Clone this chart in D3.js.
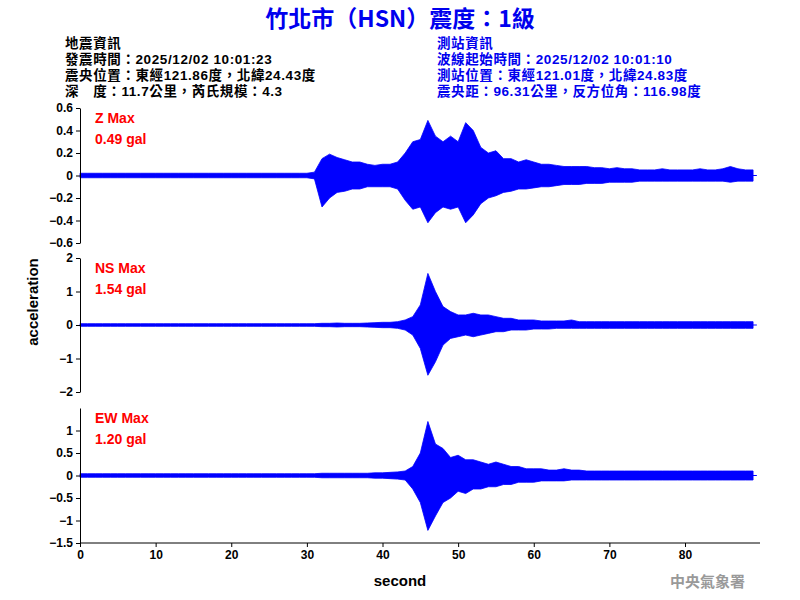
<!DOCTYPE html>
<html><head><meta charset="utf-8">
<script src="https://cdn.jsdelivr.net/npm/d3@7"></script>
<style>body{margin:0;background:#fff}text{font-family:Arial,"Liberation Sans",sans-serif}</style>
</head><body><svg id="c" width="800" height="600"></svg>
<script>
// envelope per second (0..89): max and min acceleration
var zMax = [0.02,0.02,0.02,0.02,0.02,0.02,0.02,0.02,0.02,0.02,0.02,0.02,0.02,0.02,0.02,0.02,0.02,0.02,0.02,0.02,0.02,0.02,0.02,0.02,0.02,0.02,0.02,0.02,0.02,0.02,0.02,0.03,0.15,0.19,0.16,0.14,0.12,0.12,0.1,0.09,0.1,0.1,0.12,0.2,0.3,0.32,0.49,0.35,0.3,0.35,0.3,0.47,0.4,0.25,0.2,0.22,0.15,0.15,0.12,0.14,0.12,0.1,0.1,0.09,0.08,0.08,0.08,0.08,0.07,0.07,0.06,0.07,0.06,0.06,0.05,0.05,0.05,0.06,0.05,0.05,0.05,0.05,0.06,0.05,0.05,0.06,0.08,0.06,0.05,0.05];
var zMin = [-0.02,-0.02,-0.02,-0.02,-0.02,-0.02,-0.02,-0.02,-0.02,-0.02,-0.02,-0.02,-0.02,-0.02,-0.02,-0.02,-0.02,-0.02,-0.02,-0.02,-0.02,-0.02,-0.02,-0.02,-0.02,-0.02,-0.02,-0.02,-0.02,-0.02,-0.02,-0.03,-0.28,-0.2,-0.15,-0.14,-0.12,-0.12,-0.1,-0.1,-0.1,-0.1,-0.12,-0.22,-0.3,-0.28,-0.42,-0.33,-0.28,-0.3,-0.28,-0.42,-0.35,-0.25,-0.2,-0.18,-0.15,-0.14,-0.12,-0.12,-0.11,-0.1,-0.1,-0.09,-0.08,-0.08,-0.08,-0.07,-0.07,-0.07,-0.06,-0.06,-0.06,-0.06,-0.05,-0.05,-0.05,-0.05,-0.05,-0.05,-0.05,-0.05,-0.05,-0.05,-0.05,-0.05,-0.06,-0.05,-0.05,-0.05];
var nsMax = [0.04,0.04,0.04,0.04,0.04,0.04,0.04,0.04,0.04,0.04,0.04,0.04,0.04,0.04,0.04,0.04,0.04,0.04,0.04,0.04,0.04,0.04,0.04,0.04,0.04,0.04,0.04,0.04,0.04,0.04,0.04,0.04,0.05,0.05,0.06,0.05,0.05,0.05,0.06,0.07,0.08,0.08,0.1,0.15,0.25,0.6,1.54,1.0,0.55,0.4,0.3,0.3,0.35,0.3,0.3,0.25,0.2,0.2,0.15,0.15,0.15,0.12,0.12,0.12,0.12,0.15,0.1,0.1,0.1,0.1,0.1,0.1,0.1,0.1,0.1,0.1,0.1,0.1,0.1,0.1,0.1,0.1,0.1,0.1,0.1,0.1,0.1,0.1,0.1,0.1];
var nsMin = [-0.04,-0.04,-0.04,-0.04,-0.04,-0.04,-0.04,-0.04,-0.04,-0.04,-0.04,-0.04,-0.04,-0.04,-0.04,-0.04,-0.04,-0.04,-0.04,-0.04,-0.04,-0.04,-0.04,-0.04,-0.04,-0.04,-0.04,-0.04,-0.04,-0.04,-0.04,-0.04,-0.05,-0.05,-0.06,-0.05,-0.05,-0.05,-0.06,-0.07,-0.08,-0.08,-0.1,-0.15,-0.3,-0.7,-1.5,-1.1,-0.6,-0.4,-0.35,-0.3,-0.35,-0.3,-0.25,-0.2,-0.2,-0.15,-0.15,-0.15,-0.12,-0.12,-0.12,-0.1,-0.1,-0.1,-0.1,-0.1,-0.1,-0.1,-0.1,-0.1,-0.1,-0.1,-0.1,-0.1,-0.1,-0.1,-0.1,-0.1,-0.1,-0.1,-0.1,-0.1,-0.1,-0.1,-0.1,-0.1,-0.1,-0.1];
var ewMax = [0.04,0.04,0.04,0.04,0.04,0.04,0.04,0.04,0.04,0.04,0.04,0.04,0.04,0.04,0.04,0.04,0.04,0.04,0.04,0.04,0.04,0.04,0.04,0.04,0.04,0.04,0.04,0.04,0.04,0.04,0.04,0.04,0.05,0.05,0.05,0.05,0.05,0.05,0.05,0.06,0.06,0.07,0.08,0.1,0.2,0.5,1.2,0.7,0.6,0.4,0.45,0.35,0.35,0.3,0.25,0.3,0.25,0.2,0.2,0.15,0.15,0.15,0.12,0.12,0.15,0.12,0.12,0.1,0.1,0.1,0.1,0.1,0.1,0.1,0.1,0.1,0.1,0.1,0.1,0.1,0.1,0.1,0.1,0.1,0.1,0.1,0.1,0.1,0.1,0.1];
var ewMin = [-0.04,-0.04,-0.04,-0.04,-0.04,-0.04,-0.04,-0.04,-0.04,-0.04,-0.04,-0.04,-0.04,-0.04,-0.04,-0.04,-0.04,-0.04,-0.04,-0.04,-0.04,-0.04,-0.04,-0.04,-0.04,-0.04,-0.04,-0.04,-0.04,-0.04,-0.04,-0.04,-0.05,-0.05,-0.05,-0.05,-0.05,-0.05,-0.05,-0.06,-0.06,-0.07,-0.08,-0.1,-0.3,-0.6,-1.22,-0.9,-0.6,-0.5,-0.35,-0.4,-0.3,-0.3,-0.25,-0.25,-0.2,-0.2,-0.15,-0.15,-0.15,-0.12,-0.12,-0.12,-0.12,-0.1,-0.1,-0.1,-0.1,-0.1,-0.1,-0.1,-0.1,-0.1,-0.1,-0.1,-0.1,-0.1,-0.1,-0.1,-0.1,-0.1,-0.1,-0.1,-0.1,-0.1,-0.1,-0.1,-0.1,-0.1];

var panels = [
    {name: "Z Max", peak: "0.49 gal", hi: zMax, lo: zMin, dom: [-0.6, 0.6], ticks: [-0.6,-0.4,-0.2,0,0.2,0.4,0.6], top: 108, bottom: 243},
    {name: "NS Max", peak: "1.54 gal", hi: nsMax, lo: nsMin, dom: [-2, 2], ticks: [-2,-1,0,1,2], top: 258, bottom: 392},
    {name: "EW Max", peak: "1.20 gal", hi: ewMax, lo: ewMin, dom: [-1.5, 1.5], ticks: [-1.5,-1,-0.5,0,0.5,1], top: 408, bottom: 543}
];
var xTicks = [0,10,20,30,40,50,60,70,80];

var svg = d3.select("#c");
var x = d3.scaleLinear().domain([0, 80]).range([80, 685]);

svg.append("text").attr("x", 400).attr("y", 27).attr("text-anchor", "middle")
    .attr("fill", "#0000ee").attr("font-size", 23).attr("font-weight", "bold")
    .style("font-family", "'Noto Sans CJK TC',sans-serif").text("竹北市（HSN）震度：1級");

var left = ["地震資訊", "發震時間：2025/12/02 10:01:23", "震央位置：東經121.86度，北緯24.43度", "深　度：11.7公里，芮氏規模：4.3"];
var right = ["測站資訊", "波線起始時間：2025/12/02 10:01:10", "測站位置：東經121.01度，北緯24.83度", "震央距：96.31公里，反方位角：116.98度"];
[[left, 65, "#000"], [right, 437, "#0000ee"]].forEach(function (b)
{
    b[0].forEach(function (t, i)
    {
        svg.append("text").attr("x", b[1]).attr("y", 48 + i * 16).attr("fill", b[2])
            .attr("font-size", 13.5).attr("font-weight", "bold").attr("letter-spacing", 0.6)
            .style("font-family", "'Liberation Sans','Noto Sans CJK TC',sans-serif").text(t);
    });
});

panels.forEach(function (p, k)
{
    var y = d3.scaleLinear().domain(p.dom).range([p.bottom, p.top]);
    var area = d3.area()
        .x(function (d, i) { return x(i); })
        .y0(function (d, i) { return y(p.lo[i]); })
        .y1(function (d) { return y(d); });
    svg.append("path").datum(p.hi).attr("d", area).attr("fill", "#0000ff").attr("stroke", "#0000ff").attr("stroke-width", 0.8);
    svg.append("line").attr("x1", x(0)).attr("x2", x(89.5)).attr("y1", y(0)).attr("y2", y(0)).attr("stroke", "#0000ff");

    var ax = svg.append("g").attr("transform", "translate(80,0)")
        .call(d3.axisLeft(y).tickValues(p.ticks).tickSize(4).tickSizeOuter(0).tickFormat(d3.format("")));
    ax.selectAll("text").attr("font-size", 12).attr("font-weight", "bold").attr("fill", "#000");

    svg.append("text").attr("x", 95).attr("y", p.top + 15).attr("fill", "#ff0000").attr("font-size", 14).attr("font-weight", "bold").text(p.name);
    svg.append("text").attr("x", 95).attr("y", p.top + 36).attr("fill", "#ff0000").attr("font-size", 14).attr("font-weight", "bold").text(p.peak);
});

var xa = svg.append("g").attr("transform", "translate(0,543)")
    .call(d3.axisBottom(x).tickValues(xTicks).tickSize(4).tickSizeOuter(0));
xa.select(".domain").attr("d", "M80,0H760");
xa.selectAll("text").attr("font-size", 12).attr("font-weight", "bold").attr("fill", "#000");

svg.append("text").attr("x", 400).attr("y", 586).attr("text-anchor", "middle").attr("font-size", 15).attr("font-weight", "bold").text("second");
svg.append("text").attr("transform", "translate(38,302) rotate(-90)").attr("text-anchor", "middle").attr("font-size", 15).attr("font-weight", "bold").text("acceleration");
svg.append("text").attr("x", 745).attr("y", 587).attr("text-anchor", "end").attr("fill", "#999").attr("font-size", 15)
    .attr("font-weight", "bold").style("font-family", "'Noto Sans CJK TC',sans-serif").text("中央氣象署");
</script></body></html>
